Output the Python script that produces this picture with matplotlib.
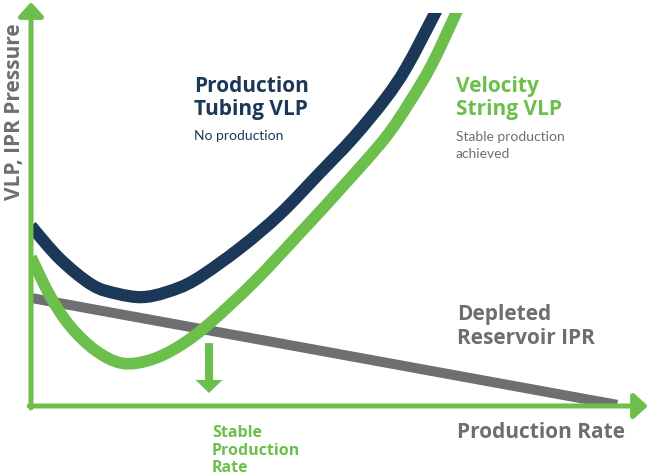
import matplotlib
matplotlib.use("Agg")
import matplotlib.pyplot as plt
from matplotlib.path import Path
from matplotlib.patches import PathPatch

# ---- data (rate 0-100, pressure 0-100) ----
tubing_rate = [0, 4.7, 9.9, 13.9, 18.0, 22.0, 26.6, 33.9, 40.4, 46.8, 52.2, 57.4, 60.9, 65.5, 66.1]
tubing_vlp = [45.8, 37.4, 30.8, 28.6, 27.7, 29.0, 32.1, 40.2, 48.9, 59.3, 68.2, 78.1, 86.3, 100.0, 102.0]

velocity_rate = [0, 3.1, 6.3, 10.4, 14.7, 19.3, 24.1, 29.0, 36.3, 43.6, 50.9, 57.4, 61.4, 65.0, 68.9, 69.5]
velocity_vlp = [37.9, 28.0, 20.4, 14.2, 10.9, 11.7, 15.3, 21.1, 31.8, 44.0, 56.5, 68.2, 77.4, 87.0, 100.0, 102.0]

ipr_rate = [0, 95.0]
ipr_pressure = [27.5, 0.3]

stable_rate = 28.85
stable_arrow_from = 16.0
stable_arrow_to = 3.3

NAVY = "#1b3859"
GREEN = "#6cbf4b"
GRAY = "#6d6e71"

BOLD_FONT = ["Open Sans", "DejaVu Sans"]
REG_FONT = ["Lato", "DejaVu Sans"]

W, H = 650, 475
fig = plt.figure(figsize=(6.5, 4.75), dpi=100)
ax = fig.add_axes([31 / W, (H - 406) / H, (648 - 31) / W, (406 - 13) / H])
ax.set_xlim(0, 100)
ax.set_ylim(0, 100)
ax.axis("off")


def smooth_line(xs, ys, color, lw, z):
    """Draw a smooth curve through the points (Catmull-Rom as cubic Bezier)."""
    pts = list(zip(xs, ys))
    n = len(pts)
    verts = [pts[0]]
    codes = [Path.MOVETO]
    for i in range(n - 1):
        p0 = pts[i - 1] if i > 0 else pts[i]
        p1 = pts[i]
        p2 = pts[i + 1]
        p3 = pts[i + 2] if i + 2 < n else pts[i + 1]
        c1 = (p1[0] + (p2[0] - p0[0]) / 6, p1[1] + (p2[1] - p0[1]) / 6)
        c2 = (p2[0] - (p3[0] - p1[0]) / 6, p2[1] - (p3[1] - p1[1]) / 6)
        verts += [c1, c2, p2]
        codes += [Path.CURVE4] * 3
    patch = PathPatch(Path(verts, codes), facecolor="none", edgecolor=color, lw=lw,
                      capstyle="butt", joinstyle="round", zorder=z)
    ax.add_patch(patch)


ax.plot(ipr_rate, ipr_pressure, color="#6e6f71", lw=7.2, solid_capstyle="butt", zorder=2)
smooth_line(tubing_rate, tubing_vlp, NAVY, 8.8, 3)
smooth_line(velocity_rate, velocity_vlp, GREEN, 8.4, 4)

axis_style = "-|>,head_length=0.42,head_width=0.38"
ax.annotate("", xy=(0, 102.8), xytext=(0, -0.5), xycoords="data",
            arrowprops=dict(arrowstyle=axis_style, lw=3.6, color=GREEN,
                            shrinkA=0, shrinkB=0, mutation_scale=20),
            annotation_clip=False, zorder=6)
ax.annotate("", xy=(100, 0), xytext=(-0.3, 0), xycoords="data",
            arrowprops=dict(arrowstyle=axis_style, lw=3.6, color=GREEN,
                            shrinkA=0, shrinkB=0, mutation_scale=20),
            annotation_clip=False, zorder=6)

ax.annotate("", xy=(stable_rate, stable_arrow_to), xytext=(stable_rate, stable_arrow_from),
            arrowprops=dict(arrowstyle="simple,head_length=0.47,head_width=0.97,tail_width=0.29",
                            color=GREEN, lw=0, shrinkA=0, shrinkB=0, mutation_scale=20),
            annotation_clip=False, zorder=5)


def txt(x, y, s, size, color, bold=True, **kw):
    fig.text(x / W, 1 - y / H, s, fontsize=size, color=color,
             fontweight="bold" if bold else "normal",
             family=BOLD_FONT if bold else REG_FONT,
             ha="left", va="baseline", **kw)


txt(194, 92, "Production", 15, NAVY)
txt(194, 115, "Tubing VLP", 15, NAVY)
txt(194, 140, "No production", 10, NAVY, bold=False)

txt(456, 92, "Velocity", 15, GREEN)
txt(456, 115, "String VLP", 15, GREEN)
txt(456, 141, "Stable production", 10, GRAY, bold=False)
txt(456, 158, "achieved", 10, GRAY, bold=False)

txt(457, 320, "Depleted", 15, GRAY)
txt(457, 344, "Reservoir IPR", 15, GRAY)
txt(457, 438, "Production Rate", 15, GRAY)

txt(212, 437, "Stable", 11.5, GREEN)
txt(212, 455, "Production", 11.5, GREEN)
txt(212, 472, "Rate", 11.5, GREEN)

fig.text(20 / W, 1 - 200 / H, "VLP, IPR Pressure", fontsize=15, color=GRAY,
         fontweight="bold", family=BOLD_FONT, rotation=90, rotation_mode="anchor",
         ha="left", va="baseline")

fig.savefig("out.png", dpi=100, facecolor="white")
